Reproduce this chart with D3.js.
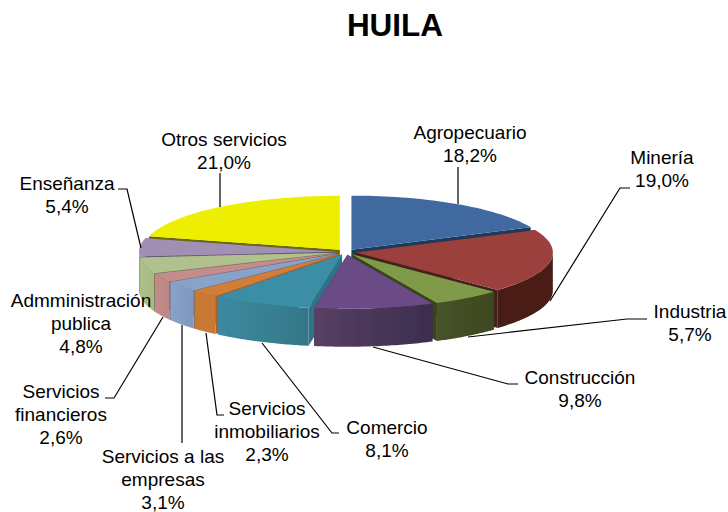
<!DOCTYPE html>
<html><head><meta charset="utf-8">
<script src="https://cdn.jsdelivr.net/npm/d3@7"></script>
<style>html,body{margin:0;padding:0;background:#fff}svg{display:block}text{font-family:"Liberation Sans",Arial,sans-serif;fill:#000}</style>
</head><body><svg id="c" width="728" height="512"></svg>
<script>
const title = "HUILA";
const categories = ["Agropecuario","Minería","Industria","Construcción","Comercio","Servicios inmobiliarios","Servicios a las empresas","Servicios financieros","Admministración publica","Enseñanza","Otros servicios"];
const values = [18.2,19.0,5.7,9.8,8.1,2.3,3.1,2.6,4.8,5.4,21.0];
const labelLines = [["Agropecuario"],["Minería"],["Industria"],["Construcción"],["Comercio"],["Servicios","inmobiliarios"],["Servicios a las","empresas"],["Servicios","financieros"],["Admministración","publica"],["Enseñanza"],["Otros servicios"]];
const topColors = ["#3f6b9f","#9b3f3c","#7f9b49","#6a4c85","#3a8ea6","#d07e38","#88a2c9","#c48c8a","#b0c18e","#a18fb4","#eeee00"];
const sideDark = ["#2a4a70","#4a1c18","#3e481f","#3c2d4e","#347688","#c87a35","#7f98bd","#bd8684","#a8b985","#8f7fa3","#a0a000"];
const sideLight = ["#2a4a70","#4a1c18","#46532a","#574064","#3c8aa0","#c87a35","#88a2c9","#c48a88","#aec08a","#8f7fa3","#a0a000"];
const wallColors = ["#1d3a5c","#43201c","#39451c","#3c2d4e","#2f7386","#a8622a","#6f6f85","#6f5f60","#6f7a5a","#5f5470","#6b6b00"];
// layout
const cx=346, cy=252, rx=197, ry=54, depth=38, explode=10, squash=0.28, lineH=22.8;
const labelPos = [[470,139],[662,164],[690,318],[580,384],[387,434],[267,415],[163,463],[61,398],[81,307],[67,190],[224,146]];
const leaders = [
 [[458,167],[458,204]],
 [[630,188],[620,188],[550,301]],
 [[647,319],[627,319],[468,337]],
 [[518,384],[508,384],[373,347]],
 [[339,433],[332,433],[262,343]],
 [[224,415],[217,415],[206,333]],
 [[182,443],[182,325]],
 [[105,398],[114,398],[163,317]],
 [[118,189],[127,189],[141,248]],
 [[220,173],[220,207]]
];
const svg=d3.select("#c");
const defs=svg.append("defs");
defs.append("filter").attr("id","soft").append("feGaussianBlur").attr("stdDeviation",0.45);
svg.append("text").attr("x",395).attr("y",36).attr("text-anchor","middle").attr("font-size",31.5).attr("font-weight","bold").text(title);

const arcs=d3.pie().sort(null).startAngle(0).endAngle(2*Math.PI)(values);
const pt=(a,r,o)=>[o[0]+r*rx*Math.sin(a), o[1]-r*ry*Math.cos(a)];
const slices=arcs.map((d,i)=>{
  const mid=(d.startAngle+d.endAngle)/2;
  return {i,a0:d.startAngle,a1:d.endAngle,mid,o:[cx+explode*Math.sin(mid),cy-explode*squash*Math.cos(mid)]};
});
const arcPts=(s,a0,a1)=>d3.range(0,41).map(k=>pt(a0+(a1-a0)*k/40,1,s.o));
const line=d3.line();
slices.forEach(s=>{
  const g=defs.append("linearGradient").attr("id","g"+s.i).attr("gradientUnits","userSpaceOnUse");
  const xs=arcPts(s,s.a0,s.a1).map(p=>p[0]);
  g.attr("x1",d3.min(xs)).attr("x2",d3.max(xs)).attr("y1",0).attr("y2",0);
  g.append("stop").attr("offset",0).attr("stop-color",sideLight[s.i]);
  g.append("stop").attr("offset",1).attr("stop-color",sideDark[s.i]);
});
const order=slices.slice().sort((a,b)=>Math.cos(b.mid)-Math.cos(a.mid));
const pieG=svg.append("g").attr("filter","url(#soft)");
order.forEach(s=>{
  const g=pieG.append("g");
  const down=p=>[p[0],p[1]+depth];
  [s.a0,s.a1].forEach(a=>{
    const o=s.o,e=pt(a,1,o);
    g.append("path").attr("d",line([o,e,down(e),down(o)])+"Z").attr("fill",wallColors[s.i]);
  });
  const lo=Math.max(s.a0,Math.PI/2),hi=Math.min(s.a1,1.5*Math.PI);
  if(hi>lo){
    const p=arcPts(s,lo,hi);
    g.append("path").attr("d",line(p.concat(p.map(down).reverse()))+"Z").attr("fill",`url(#g${s.i})`);
  }
  const top=[s.o].concat(arcPts(s,s.a0,s.a1));
  g.append("path").attr("d",line(top)+"Z").attr("fill",topColors[s.i]);
});
const lg=svg.append("g").attr("fill","none").attr("stroke","#000").attr("stroke-width",1.2);
leaders.forEach(l=>lg.append("path").attr("d",line(l)));
categories.forEach((c,i)=>{
  const t=svg.append("text").attr("text-anchor","middle").attr("font-size",19);
  const rows=labelLines[i].concat([d3.format(".1f")(values[i]).replace(".",",")+"%"]);
  rows.forEach((r,k)=>t.append("tspan").attr("x",labelPos[i][0]).attr("y",labelPos[i][1]+k*lineH).text(r));
});
</script></body></html>
